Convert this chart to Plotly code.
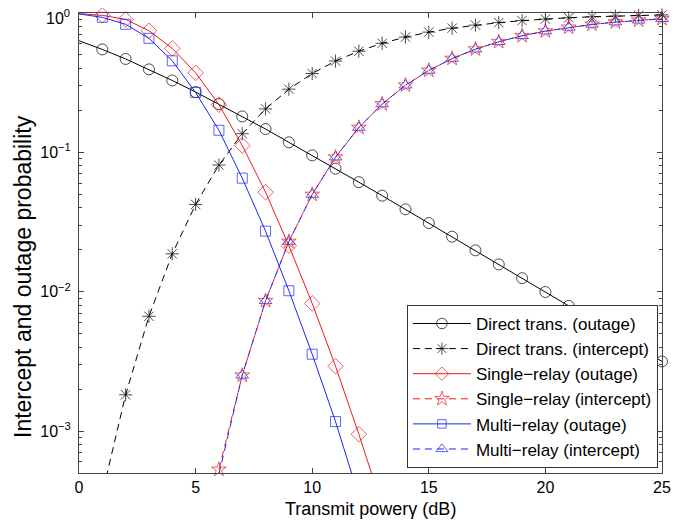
import plotly.graph_objects as go

# x values (dB)
x_all = list(range(0, 26))

direct_outage = [0.632, 0.548, 0.468, 0.394, 0.328, 0.271, 0.222, 0.181, 0.147, 0.118,
                 0.0952, 0.0764, 0.0611, 0.0489, 0.0390, 0.0311, 0.0248, 0.0198, 0.0157,
                 0.0125, 0.00995, 0.00791, 0.00629, 0.00500, 0.00397, 0.00316]

direct_intercept = [4.5e-5, 3.55e-4, 1.82e-3, 6.66e-3, 0.0187, 0.0423, 0.0811, 0.136, 0.205,
                    0.284, 0.368, 0.452, 0.532, 0.606, 0.672, 0.729, 0.778, 0.819, 0.853,
                    0.882, 0.905, 0.924, 0.939, 0.951, 0.961, 0.969]

x_single_out = list(range(0, 14))
single_outage = [0.99, 0.962, 0.90, 0.746, 0.557, 0.372, 0.220, 0.112, 0.0518, 0.0214,
                 0.00824, 0.00292, 0.00095, 0.00029]

x_multi_out = list(range(0, 13))
multi_outage = [0.985, 0.93, 0.83, 0.658, 0.454, 0.269, 0.144, 0.0653, 0.0272, 0.01016,
                0.00356, 0.00117, 0.00034]

x_int = list(range(6, 26))
single_intercept = [5.3e-4, 2.51e-3, 8.60e-3, 0.0229, 0.0498, 0.0923, 0.1507, 0.2223, 0.303,
                    0.387, 0.471, 0.550, 0.622, 0.686, 0.741, 0.788, 0.828, 0.860, 0.887, 0.909]
multi_intercept = [4.9e-4, 2.51e-3, 8.60e-3, 0.0229, 0.0498, 0.0923, 0.1507, 0.2223, 0.303,
                   0.387, 0.471, 0.550, 0.622, 0.686, 0.741, 0.788, 0.828, 0.860, 0.887, 0.909]

names = ["Direct trans. (outage)", "Direct trans. (intercept)", "Single\u2212relay (outage)",
         "Single\u2212relay (intercept)", "Multi\u2212relay (outage)", "Multi\u2212relay (intercept)"]

x_ticks = [0, 5, 10, 15, 20, 25]
y_ticks = [1e-3, 1e-2, 1e-1, 1]
y_tick_text = ["10<sup>\u22123</sup>", "10<sup>\u22122</sup>", "10<sup>\u22121</sup>", ""]
y_top_label = "10<sup>0</sup>"
x_title = "Transmit power\u03b3 (dB)"
y_title = "Intercept and outage probability"

YMIN = 5e-4
YMAX = 1.0

BLACK = "#000000"
RED = "#f01818"
BLUE = "#1a26f0"


def sizes(xs, ys, base, skip_x0=True):
    out = []
    for xv, yv in zip(xs, ys):
        if (skip_x0 and xv == 0) or yv < YMIN or yv > YMAX:
            out.append(0)
        else:
            out.append(base)
    return out


fig = go.Figure()

series = [
    (x_all, direct_outage, names[0], BLACK, "solid", "circle-open", 11),
    (x_all, direct_intercept, names[1], BLACK, "7px,5px", "asterisk-open", 11),
    (x_single_out, single_outage, names[2], RED, "solid", "diamond-open", 12),
    (x_int, single_intercept, names[3], RED, "7px,5px", "star-open", 11),
    (x_multi_out, multi_outage, names[4], BLUE, "solid", "square-open", 10),
    (x_int, multi_intercept, names[5], BLUE, "7px,5px", "triangle-up-open", 11),
]

for xs, ys, nm, col, dash, sym, sz in series:
    fig.add_trace(go.Scatter(
        x=xs, y=ys, name=nm, mode="lines+markers",
        line=dict(color=col, width=1, dash=dash),
        marker=dict(symbol=sym, size=sizes(xs, ys, sz), color=col,
                    line=dict(color=col, width=1)),
        cliponaxis=False,
    ))

minor_y = [m * 10 ** e for e in (-4, -3, -2, -1) for m in range(2, 10) if m * 10 ** e >= YMIN]

AXCOL = "#444444"
FONT = "Liberation Sans, Arial, Helvetica, sans-serif"
fig.update_layout(
    width=692, height=517,
    margin=dict(l=71, r=38, t=5, b=52, autoexpand=False),
    paper_bgcolor="white", plot_bgcolor="white",
    font=dict(family=FONT, size=16, color="black"),
    showlegend=True,
    legend=dict(x=0.993, y=0.011, xanchor="right", yanchor="bottom",
                bgcolor="white", bordercolor="#333333", borderwidth=1,
                font=dict(size=17), itemwidth=58, tracegroupgap=0),
    xaxis=dict(range=[0, 25], tickvals=x_ticks, ticks="inside", ticklen=5,
               tickcolor=AXCOL, showline=True, linecolor=AXCOL, linewidth=1, mirror="ticks",
               showgrid=False, zeroline=False, automargin=False, ticklabeloverflow="allow",
               tickfont=dict(size=16)),
    yaxis=dict(type="log", range=[-3.30103, 0], tickvals=y_ticks, ticktext=y_tick_text,
               ticks="inside", ticklen=5, tickcolor=AXCOL, showline=True, linecolor=AXCOL,
               linewidth=1, mirror="ticks", showgrid=False, zeroline=False, automargin=False,
               ticklabeloverflow="allow", ticklabelstandoff=4,
               minor=dict(tickvals=minor_y, ticks="inside", ticklen=3, tickcolor=AXCOL),
               tickfont=dict(size=16)),
    annotations=[
        dict(text=y_top_label, xref="paper", yref="paper", x=0, y=1, xanchor="right",
             yanchor="middle", xshift=-7, yshift=-4, showarrow=False, font=dict(size=16)),
        dict(text=x_title, xref="paper", yref="paper", x=0.5, y=0, xanchor="center",
             yanchor="top", yshift=-24, showarrow=False, font=dict(size=18)),
        dict(text=y_title, xref="paper", yref="paper", x=0, y=0.5, xanchor="center",
             yanchor="middle", xshift=-56, yshift=-34, textangle=-90, showarrow=False,
             font=dict(size=23)),
    ],
)

fig.write_html("out.html")
